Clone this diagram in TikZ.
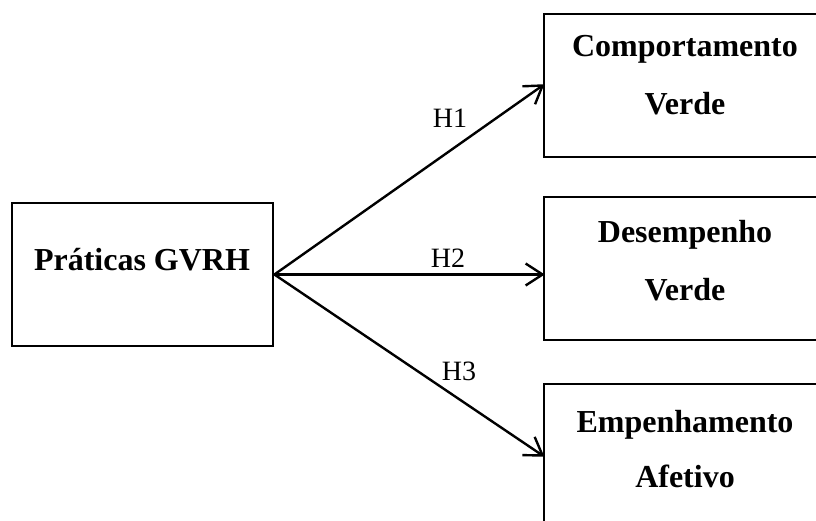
\documentclass[tikz,border=0pt]{standalone}
\usepackage{fontspec}
\setmainfont{Liberation Serif}
\usetikzlibrary{arrows.meta}
\pgfdeclarearrow{
  name = VeeOpen,
  parameters = {\the\pgfarrowlength,\the\pgfarrowwidth},
  setup code = {
    \pgfarrowssettipend{0pt}
    \pgfarrowssetlineend{-0.5\pgflinewidth}
    \pgfarrowsupperhullpoint{-\pgfarrowlength}{.5\pgfarrowwidth}
    \pgfarrowsupperhullpoint{0pt}{0pt}
    \pgfarrowssavethe\pgfarrowlength
    \pgfarrowssavethe\pgfarrowwidth
  },
  drawing code = {
    \pgfsetdash{}{0pt}
    \pgfsetmiterjoin
    \pgfsetbuttcap
    \pgfpathmoveto{\pgfpoint{-\pgfarrowlength}{.5\pgfarrowwidth}}
    \pgfpathlineto{\pgfpointorigin}
    \pgfpathlineto{\pgfpoint{-\pgfarrowlength}{-.5\pgfarrowwidth}}
    \pgfusepathqstroke
  },
  defaults = {length = 15pt, width = 18pt}
}
\begin{document}
\begin{tikzpicture}[x=1pt,y=-1pt,
  box/.style={draw=black,line width=2.8pt,minimum width=282pt,minimum height=143pt,inner sep=0pt},
  lbl/.style={font=\fontsize{32}{36}\selectfont\bfseries,anchor=base,inner sep=0pt},
  hyp/.style={font=\fontsize{28}{32}\selectfont,anchor=base,inner sep=0pt},
  conn/.style={line width=2.4pt,-{VeeOpen[length=17pt,width=22pt]}}]
\useasboundingbox (0,0) rectangle (816,521);
\clip (0,0) rectangle (816,521);
\node[box,minimum width=261pt] (src) at (142.5,274.5) {};
\node[box] (cv) at (685,85.5) {};
\node[box] (dv) at (685,268.5) {};
\node[box] (ea) at (685,455.5) {};
\node[lbl] (t0) at (142,270) {Práticas GVRH};
\node[lbl] (t1a) at (685,57) {Comportamento};
\node[lbl] (t1b) at (685,115) {Verde};
\node[lbl] (t2a) at (685,243) {Desempenho};
\node[lbl] (t2b) at (685,300) {Verde};
\node[lbl] (t3a) at (685,432) {Empenhamento};
\node[lbl] (t3b) at (685,487) {Afetivo};
\draw[conn] (src.east) -- (cv.west);
\draw[conn] (src.east) -- (dv.west |- src.east);
\draw[conn] (src.east) -- (ea.west);
\node[hyp] (h1) at (450,128) {H1};
\node[hyp] (h2) at (448,268) {H2};
\node[hyp] (h3) at (459,380) {H3};
\end{tikzpicture}
\end{document}
